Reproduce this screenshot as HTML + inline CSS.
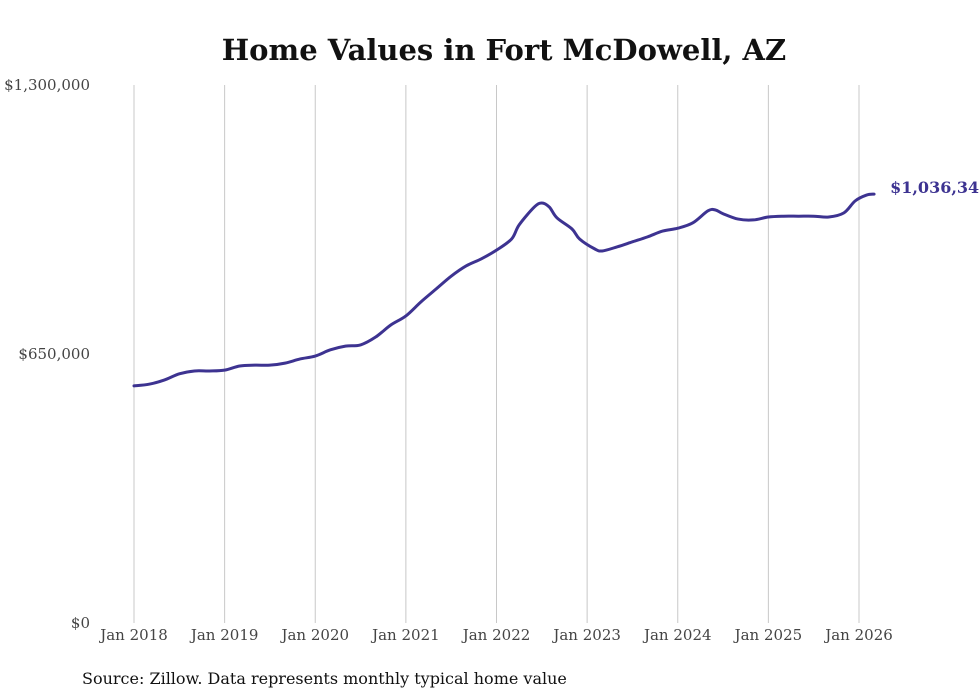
<!DOCTYPE html>
<html><head><meta charset="utf-8"><style>
body{margin:0;background:#fff;}
svg{display:block;font-family:"DejaVu Serif","Liberation Serif",serif;}
</style></head><body>
<svg id="chart" width="980" height="699">
<text x="504" y="60" text-anchor="middle" font-size="29" font-weight="bold" fill="#111">Home Values in Fort McDowell, AZ</text>
<g id="grid"></g><g id="yaxis"></g><g id="xaxis"></g>
<path id="line" fill="none" stroke="#3d3391" stroke-width="3" stroke-linejoin="round" stroke-linecap="round"></path>
<text id="endlabel" font-size="16" font-weight="bold" fill="#3d3391"></text>
<text x="82" y="684" font-size="16" fill="#111">Source: Zillow. Data represents monthly typical home value</text>
</svg>
<script>
const months=[0,2,4,6,8,10,12,14,16,18,20,22,24,26,28,30,32,34,36,38,40,42,44,46,48,50,51,53,54,55,56,58,59,61,62,64,66,68,70,72,74,76,77,78,80,82,84,86,88,90,92,94,95.5,97,98];
const values=[573000,577000,587000,602000,609000,609000,611000,621000,623000,623000,628000,638000,645000,660000,669000,672000,691000,720000,742000,776000,807000,838000,863000,880000,901000,928000,962000,1005000,1015000,1005000,979000,952000,928000,904000,899000,909000,921000,933000,947000,954000,967000,996000,998000,989000,976000,974000,981000,983000,983000,983000,981000,991000,1020000,1034000,1036348];
const yTicks=[0,650000,1300000];
const yTickLabels=["$0","$650,000","$1,300,000"];
const xTickYears=[2018,2019,2020,2021,2022,2023,2024,2025,2026];
const x=m=>134+m*(725/96);
const y=v=>623-v/1300000*538;
const svg=document.getElementById('chart');
const NS="http://www.w3.org/2000/svg";
function mk(t,a,p){const e=document.createElementNS(NS,t);for(const k in a)e.setAttribute(k,a[k]);p.appendChild(e);return e;}
xTickYears.forEach((yr,i)=>{
 const m=(yr-2018)*12;
 const l=mk('line',{x1:x(m),x2:x(m),y1:85,y2:623,stroke:'#c8c8c8','stroke-width':1},document.getElementById('grid'));
 
 
 const t=mk('text',{x:x(m),y:640,'text-anchor':'middle','font-size':15,fill:'#444'},document.getElementById('xaxis'));
 t.textContent='Jan '+yr;
 
 
});
yTicks.forEach((v,i)=>{
 const t=mk('text',{x:90,y:y(v)+5,'text-anchor':'end','font-size':15,fill:'#444'},document.getElementById('yaxis'));
 t.textContent=yTickLabels[i];
 
 
});
const pts=months.map((m,i)=>[x(m),y(values[i])]);
let d='M'+pts[0][0]+','+pts[0][1];
for(let i=0;i<pts.length-1;i++){
 const p0=pts[i-1]||pts[i],p1=pts[i],p2=pts[i+1],p3=pts[i+2]||p2;
 const c1=[p1[0]+(p2[0]-p0[0])/6,p1[1]+(p2[1]-p0[1])/6];
 const c2=[p2[0]-(p3[0]-p1[0])/6,p2[1]-(p3[1]-p1[1])/6];
 d+=` C${c1[0]},${c1[1]} ${c2[0]},${c2[1]} ${p2[0]},${p2[1]}`;
}
document.getElementById('line').setAttribute('d',d);
const last=pts[pts.length-1];
const el=document.getElementById('endlabel');
el.setAttribute('x',last[0]+16);el.setAttribute('y',last[1]-1);
el.textContent='$'+values[values.length-1].toLocaleString('en-US');
</script>
</body></html>
